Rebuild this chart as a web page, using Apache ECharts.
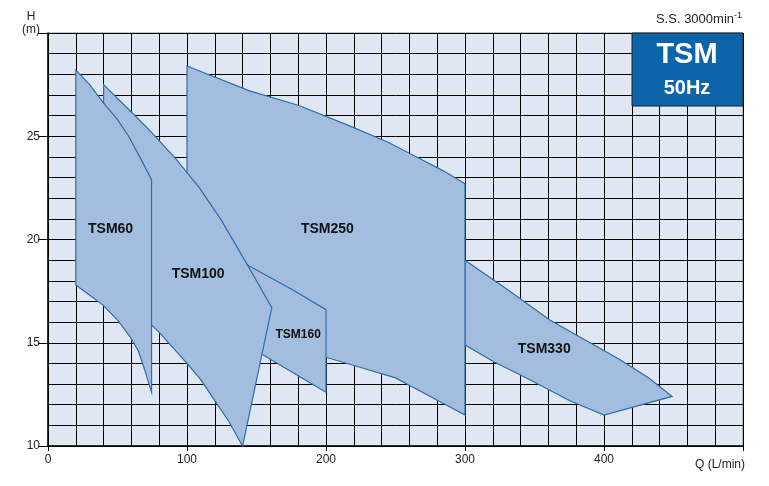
<!DOCTYPE html>
<html><head><meta charset="utf-8">
<script src="https://cdn.jsdelivr.net/npm/echarts@6/dist/echarts.min.js"></script>
<style>html,body{margin:0;padding:0;background:#fff}#c{width:769px;height:486px}</style>
</head><body><div id="c"></div>
<script>
const xTicks=[0,100,200,300,400];
const yTicks=[10,15,20,25];
const TSM330=[[300,19.0],[330,17.6],[361,16.1],[390,15.0],[411,14.2],[432,13.3],[449,12.4],[400,11.5],[375,12.2],[347,13.2],[320,14.1],[300,14.9]];
const TSM250=[[100,28.4],[145,27.2],[180,26.5],[217,25.5],[245,24.7],[268,23.9],[285,23.3],[300,22.7],[300,11.5],[275,12.4],[250,13.3],[225,13.8],[200,14.3],[150,15.5],[100,17]];
const TSM160=[[140,18.9],[148,18.6],[175,17.6],[200,16.6],[200,12.6],[180,13.4],[160,14.2],[140,15.0]];
const TSM100=[[40,27.5],[55,26.5],[73,25.3],[92,23.9],[109,22.5],[125,20.9],[138,19.4],[150,18.0],[161,16.7],[140,10],[130,11.2],[120,12.2],[110,13.2],[100,14.0],[80,15.5],[60,16.8],[40,18.2]];
const TSM60=[[20,28.2],[30,27.5],[40,26.6],[50,25.8],[58,25.0],[66,24.0],[74.5,22.9],[74.5,12.6],[70,13.6],[65,14.6],[59,15.3],[50,16.1],[40,16.8],[30,17.3],[20,17.8]];
const labels=[["TSM330",357,14.7,14],["TSM250",201,20.5,14],["TSM160",180,15.4,12],["TSM100",108,18.3,14],["TSM60",45,20.5,14]];
const polys=[TSM330,TSM250,TSM160,TSM100,TSM60];
const chart=echarts.init(document.getElementById('c'));
const series=polys.map(p=>({type:'custom',xAxisIndex:0,yAxisIndex:0,data:[0],silent:true,
 renderItem:(params,api)=>({type:'polygon',shape:{points:p.map(d=>api.coord(d))},
  style:{fill:'#a3bddf',stroke:'#2f6ea8',lineWidth:1.2}})}));
series.push({type:'custom',data:[0],silent:true,renderItem:(params,api)=>({type:'group',children:labels.map(l=>{const c=api.coord([l[1],l[2]]);return {type:'text',x:c[0],y:c[1],style:{text:l[0],font:'bold '+l[3]+'px Arial, Liberation Sans, sans-serif',fill:'#111',align:'center',verticalAlign:'middle'}}})})});
chart.setOption({animation:false,
 grid:{left:48,right:26,top:33,bottom:40,show:true,backgroundColor:'#dfe7f2',borderColor:'#888',borderWidth:1},
 xAxis:[{type:'value',min:0,max:500,interval:20,axisLabel:{show:false},axisTick:{show:false},axisLine:{show:false},splitLine:{lineStyle:{color:'#000',width:1}}},
  {type:'value',position:'bottom',min:0,max:500,interval:100,axisLine:{lineStyle:{color:'#000',width:1.5}},axisTick:{length:5,lineStyle:{color:'#000'}},splitLine:{show:false},
   axisLabel:{color:'#222',fontSize:12,fontFamily:'Arial, Liberation Sans',formatter:v=>xTicks.includes(v)?String(v):''}}],
 yAxis:[{type:'value',min:10,max:30,interval:1,axisLabel:{show:false},axisTick:{show:false},axisLine:{show:false},splitLine:{lineStyle:{color:'#000',width:1}}},
  {type:'value',position:'left',min:10,max:30,interval:5,axisLine:{lineStyle:{color:'#000',width:1.5}},axisTick:{length:10,inside:false,lineStyle:{color:'#000'}},splitLine:{show:false},
   axisLabel:{color:'#222',fontSize:12,fontFamily:'Arial, Liberation Sans',formatter:v=>yTicks.includes(v)?String(v):''}}],
 series:series,
 graphic:[
  {type:'rect',shape:{x:632,y:33,width:111,height:73},style:{fill:'#0b65a8',stroke:'#222',lineWidth:1},z:100},
  {type:'text',x:687,y:55,style:{text:'TSM',font:'bold 29px Arial, Liberation Sans',fill:'#fff',align:'center',verticalAlign:'middle'},z:101},
  {type:'text',x:687,y:88,style:{text:'50Hz',font:'bold 20px Arial, Liberation Sans',fill:'#fff',align:'center',verticalAlign:'middle'},z:101},
  {type:'text',x:742,y:19,style:{text:'{a|S.S. 3000min}{b|-1}',align:'right',verticalAlign:'middle',rich:{a:{font:'13px Arial, Liberation Sans',fill:'#222'},b:{font:'9px Arial, Liberation Sans',fill:'#222',padding:[0,0,6,0]}}},z:101},
  {type:'text',x:31,y:36,style:{text:'H\n(m)',font:'12px Arial, Liberation Sans',fill:'#222',align:'center',verticalAlign:'bottom',lineHeight:13}},
  {type:'text',x:745,y:465,style:{text:'Q (L/min)',font:'12px Arial, Liberation Sans',fill:'#222',align:'right',verticalAlign:'middle'}}
 ]});
</script></body></html>
